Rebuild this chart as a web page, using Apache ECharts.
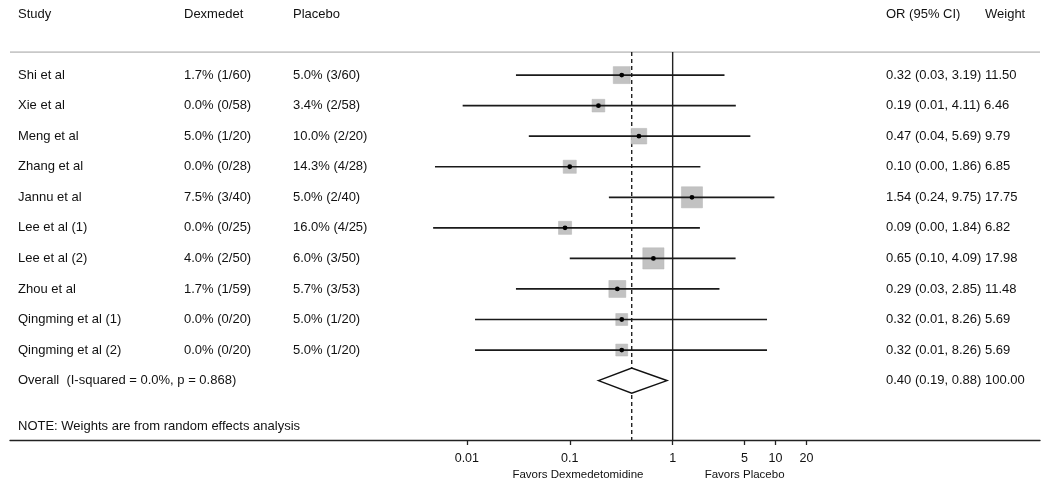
<!DOCTYPE html>
<html>
<head>
<meta charset="utf-8">
<script src="https://cdn.jsdelivr.net/npm/echarts@6/dist/echarts.min.js"></script>
<style>
  html, body { margin: 0; padding: 0; background: #fff; }
  #chart { width: 1050px; height: 487px; }
</style>
</head>
<body>
<div id="chart"></div>
<script>
// study rows
const studies = ['Shi et al', 'Xie et al', 'Meng et al', 'Zhang et al', 'Jannu et al',
  'Lee et al (1)', 'Lee et al (2)', 'Zhou et al', 'Qingming et al (1)', 'Qingming et al (2)']
const dexText = ['1.7% (1/60)', '0.0% (0/58)', '5.0% (1/20)', '0.0% (0/28)', '7.5% (3/40)',
  '0.0% (0/25)', '4.0% (2/50)', '1.7% (1/59)', '0.0% (0/20)', '0.0% (0/20)']
const placeboText = ['5.0% (3/60)', '3.4% (2/58)', '10.0% (2/20)', '14.3% (4/28)', '5.0% (2/40)',
  '16.0% (4/25)', '6.0% (3/50)', '5.7% (3/53)', '5.0% (1/20)', '5.0% (1/20)']
const orVals = [0.32, 0.19, 0.47, 0.10, 1.54, 0.09, 0.65, 0.29, 0.32, 0.32]
const loVals = [0.03, 0.0091, 0.04, 0.0049, 0.24, 0.0047, 0.10, 0.03, 0.012, 0.012]
const hiVals = [3.19, 4.11, 5.69, 1.86, 9.75, 1.84, 4.09, 2.85, 8.26, 8.26]
const weights = [11.50, 6.46, 9.79, 6.85, 17.75, 6.82, 17.98, 11.48, 5.69, 5.69]

// pooled estimate: OR, lower, upper, weight
const overallVals = [0.40, 0.19, 0.88, 100.00]
const overallLabel = 'Overall  (I-squared = 0.0%, p = 0.868)'
const noteLabel = 'NOTE: Weights are from random effects analysis'

const headers = ['Study', 'Dexmedet', 'Placebo', 'OR (95% CI)', 'Weight']
const xTicks = [0.01, 0.1, 1, 5, 10, 20]
const favorLabels = ['Favors Dexmedetomidine', 'Favors Placebo']
const favorPos = [0.12, 5.0]

const refLines = [1, overallVals[0]]

// layout
const font = '"Liberation Sans", Arial, Helvetica, sans-serif'
const fontSize = 13
const textColor = '#111'
const colX = [18, 184, 293, 886, 985]
const headerRow = -2
const lineRow = -0.753
const overallRow = studies.length
const noteRow = 11.49
const favorRow = 13.1

const fmt = (v) => v.toFixed(2)

// text rows: each entry -> list of [colIndex, text]
const textRows = []
textRows.push({ row: headerRow, cells: headers.map((h, i) => [i, h]) })
studies.forEach((s, i) => {
  textRows.push({
    row: i,
    cells: [
      [0, s],
      [1, dexText[i]],
      [2, placeboText[i]],
      [3, fmt(orVals[i]) + ' (' + fmt(loVals[i]) + ', ' + fmt(hiVals[i]) + ') ' + fmt(weights[i])]
    ]
  })
})
textRows.push({
  row: overallRow,
  cells: [
    [0, overallLabel],
    [3, fmt(overallVals[0]) + ' (' + fmt(overallVals[1]) + ', ' + fmt(overallVals[2]) + ') ' + fmt(overallVals[3])]
  ]
})
textRows.push({ row: noteRow, cells: [[0, noteLabel]] })

const chart = echarts.init(document.getElementById('chart'), null, { renderer: 'canvas' })

const option = {
  animation: false,
  backgroundColor: '#fff',
  grid: { left: 10, right: 10, top: 14, bottom: 47 },
  xAxis: {
    type: 'log',
    logBase: 10,
    min: Math.pow(10, -6.44),
    max: Math.pow(10, 3.57),
    axisLine: { show: true, onZero: false, lineStyle: { color: '#222', width: 1.4 } },
    axisTick: { show: true, customValues: xTicks, length: 5, lineStyle: { color: '#222', width: 1.3 } },
    axisLabel: {
      show: true,
      customValues: xTicks,
      margin: 12,
      color: textColor,
      fontSize: 12.5,
      fontFamily: font,
      formatter: (v) => String(Number(v.toPrecision(3)))
    },
    splitLine: { show: false }
  },
  yAxis: {
    type: 'value',
    inverse: true,
    min: headerRow,
    max: 11.944,
    show: false,
    splitLine: { show: false }
  },
  series: [
    // header rule
    {
      type: 'custom',
      data: [[1, lineRow]],
      encode: { x: 0, y: 1 },
      z: 1,
      renderItem: (params, api) => {
        const y = api.coord([1, api.value(1)])[1]
        const cs = params.coordSys
        return {
          type: 'line',
          shape: { x1: cs.x, y1: y, x2: cs.x + cs.width, y2: y },
          style: { stroke: '#c8c8c8', lineWidth: 1.6 }
        }
      }
    },
    // no-effect line and pooled estimate line
    {
      type: 'custom',
      data: refLines.map((v, i) => [v, lineRow, i]),
      encode: { x: 0, y: 1 },
      z: 2,
      renderItem: (params, api) => {
        const p = api.coord([api.value(0), api.value(1)])
        const cs = params.coordSys
        const dashed = api.value(2) === 1
        return {
          type: 'line',
          shape: { x1: p[0], y1: p[1], x2: p[0], y2: cs.y + cs.height },
          style: {
            stroke: '#222',
            lineWidth: 1.4,
            lineDash: dashed ? [4, 3] : null
          }
        }
      }
    },
    // study boxes, CI lines and point estimates
    {
      type: 'custom',
      data: studies.map((s, i) => [orVals[i], i, loVals[i], hiVals[i], weights[i]]),
      encode: { x: [0, 2, 3], y: 1 },
      z: 3,
      renderItem: (params, api) => {
        const c = api.coord([api.value(0), api.value(1)])
        const lo = api.coord([api.value(2), api.value(1)])
        const hi = api.coord([api.value(3), api.value(1)])
        const side = 5 * Math.sqrt(api.value(4))
        return {
          type: 'group',
          children: [
            {
              type: 'rect',
              shape: { x: c[0] - side / 2, y: c[1] - side / 2, width: side, height: side },
              style: { fill: '#c2c2c2', stroke: '#b4b4b4', lineWidth: 0.5 }
            },
            {
              type: 'line',
              shape: { x1: lo[0], y1: c[1], x2: hi[0], y2: c[1] },
              style: { stroke: '#1a1a1a', lineWidth: 1.7 }
            },
            {
              type: 'circle',
              shape: { cx: c[0], cy: c[1], r: 2.4 },
              style: { fill: '#000' }
            }
          ]
        }
      }
    },
    // pooled diamond
    {
      type: 'custom',
      data: [[overallVals[0], overallRow, overallVals[1], overallVals[2]]],
      encode: { x: [0, 2, 3], y: 1 },
      z: 4,
      renderItem: (params, api) => {
        const c = api.coord([api.value(0), api.value(1)])
        const lo = api.coord([api.value(2), api.value(1)])
        const hi = api.coord([api.value(3), api.value(1)])
        const h = 12.5
        return {
          type: 'polygon',
          shape: { points: [[lo[0], c[1]], [c[0], c[1] - h], [hi[0], c[1]], [c[0], c[1] + h]] },
          style: { fill: '#fff', stroke: '#111', lineWidth: 1.5 }
        }
      }
    },
    // table text
    {
      type: 'custom',
      data: textRows.map((r, i) => [1, r.row, i]),
      encode: { x: 0, y: 1 },
      z: 5,
      renderItem: (params, api) => {
        const r = textRows[api.value(2)]
        const y = api.coord([1, api.value(1)])[1]
        return {
          type: 'group',
          children: r.cells.map(([ci, t]) => ({
            type: 'text',
            x: colX[ci],
            y: y,
            style: {
              text: t,
              fill: textColor,
              font: fontSize + 'px ' + font,
              textAlign: 'left',
              textVerticalAlign: 'middle'
            }
          }))
        }
      }
    },
    // favours labels under the axis
    {
      type: 'custom',
      data: favorPos.map((v, i) => [v, favorRow, i]),
      encode: { x: 0, y: 1 },
      z: 5,
      renderItem: (params, api) => {
        const p = api.coord([api.value(0), api.value(1)])
        return {
          type: 'text',
          x: p[0],
          y: p[1],
          style: {
            text: favorLabels[api.value(2)],
            fill: textColor,
            font: '11.5px ' + font,
            textAlign: 'center',
            textVerticalAlign: 'middle'
          }
        }
      }
    }
  ]
}

chart.setOption(option)
</script>
</body>
</html>
